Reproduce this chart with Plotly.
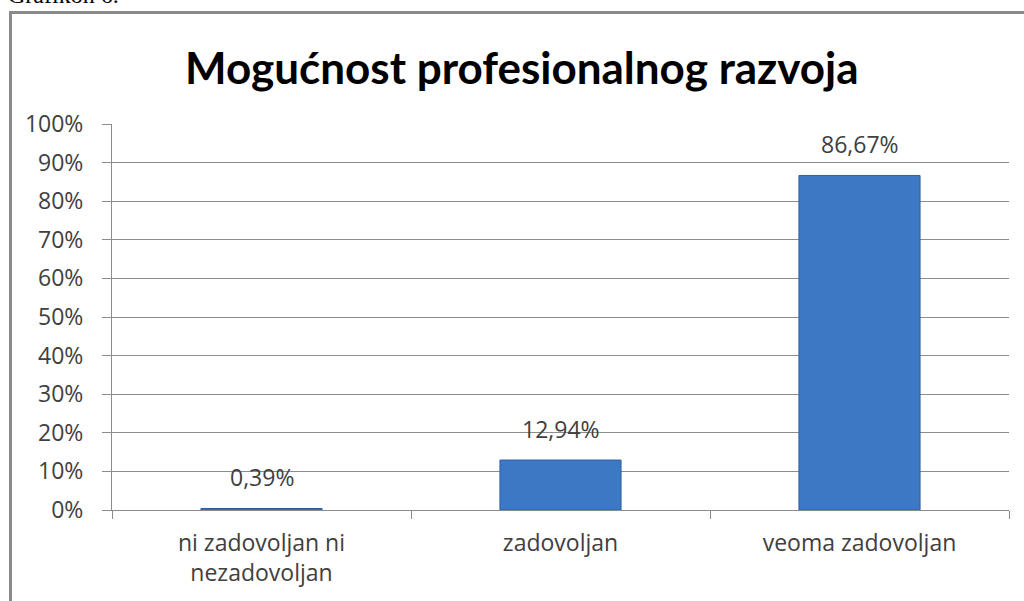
import plotly.graph_objects as go

categories = ["ni zadovoljan ni<br>nezadovoljan", "zadovoljan", "veoma zadovoljan"]
values = [0.0039, 0.1294, 0.8667]
value_labels = ["0,39%", "12,94%", "86,67%"]
tick_vals = [i / 10 for i in range(11)]
tick_text = [f"{i * 10}%" for i in range(11)]
title_text = "Mogućnost profesionalnog razvoja"
caption_text = "Grafikon 6."

FONT = "Open Sans"
TXT = "#404040"
FS = 23

fig = go.Figure()
fig.add_trace(go.Bar(
    x=categories, y=values,
    marker=dict(color="#3D78C4", line=dict(color="#2E5E9E", width=1)),
    hoverinfo="skip",
))

for c, v, t in zip(categories, values, value_labels):
    fig.add_annotation(x=c, y=v, text=t, showarrow=False, yanchor="bottom",
                       yshift=13, font=dict(family=FONT, size=FS, color=TXT))

L, R, T, B = 112, 15, 124, 91
W, H = 1024, 601
pw, ph = W - L - R, H - T - B

def px_x(p):
    return (p - L) / pw

def px_y(p):
    return (H - B - p) / ph

fig.add_annotation(xref="paper", yref="paper", x=px_x(522), y=px_y(67),
                   text=f"<b>{title_text}</b>", showarrow=False,
                   xanchor="center", yanchor="middle",
                   font=dict(family="Lato", size=44, color="#000000"))

fig.add_annotation(xref="paper", yref="paper", x=px_x(6), y=px_y(9.5),
                   text=caption_text, showarrow=False,
                   xanchor="left", yanchor="bottom",
                   font=dict(family="Liberation Serif", size=24, color="#000000"))

fig.add_shape(type="rect", xref="paper", yref="paper",
              x0=px_x(10.5), y0=px_y(640), x1=px_x(1060), y1=px_y(12.5),
              line=dict(color="#8A8A8A", width=3), layer="below")

fig.update_layout(
    width=W, height=H,
    margin=dict(l=L, r=R, t=T, b=B),
    plot_bgcolor="white", paper_bgcolor="white",
    bargap=0.595,
    showlegend=False,
    font=dict(family=FONT, size=FS, color=TXT),
)
fig.update_yaxes(
    range=[0, 1], tickvals=tick_vals, ticktext=tick_text,
    showgrid=True, gridcolor="#8C8C8C", gridwidth=1,
    showline=True, linecolor="#8C8C8C", linewidth=1,
    ticks="outside", ticklen=9, tickcolor="#8C8C8C",
    ticklabelstandoff=14, zeroline=False,
    tickfont=dict(family=FONT, size=FS, color=TXT),
)
fig.update_xaxes(
    showline=True, linecolor="#8C8C8C", linewidth=1,
    ticks="outside", ticklen=8, tickcolor="#8C8C8C",
    tickson="boundaries", showgrid=False, ticklabelstandoff=12,
    tickfont=dict(family=FONT, size=FS, color=TXT),
)

fig.write_html("out.html", config={"displayModeBar": False},
               post_script="document.body.style.margin='0';document.body.style.overflow='hidden';")
